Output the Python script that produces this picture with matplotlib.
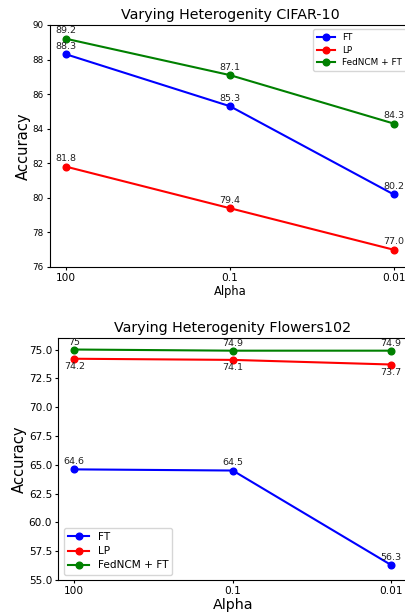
import matplotlib
matplotlib.use("Agg")
import matplotlib.pyplot as plt

alphas = ["100", "0.1", "0.01"]
methods = ["FT", "LP", "FedNCM + FT"]
colors = ["blue", "red", "green"]

cifar_ft = [88.3, 85.3, 80.2]
cifar_lp = [81.8, 79.4, 77.0]
cifar_fedncm = [89.2, 87.1, 84.3]

flowers_ft = [64.6, 64.5, 56.3]
flowers_lp = [74.2, 74.1, 73.7]
flowers_fedncm = [75, 74.9, 74.9]
flowers_fedncm_labels = ["75", "74.9", "74.9"]

W, H = 406, 613
fig = plt.figure(figsize=(W / 100, H / 100), dpi=100)

def px_axes(l, r, t, b):
    return fig.add_axes([l / W, (H - b) / H, (r - l) / W, (b - t) / H])

ax1 = px_axes(50, 410, 25, 267)
ax2 = px_axes(58.5, 407, 338, 580)

lw = 1.5
ms = 4.8
ann_fs = 6.8

x = list(range(len(alphas)))

# Top chart
for vals, c, m in zip([cifar_ft, cifar_lp, cifar_fedncm], colors, methods):
    ax1.plot(x, vals, marker="o", color=c, lw=lw, ms=ms, label=m)
    for xi, v in zip(x, vals):
        ax1.annotate(f"{v:.1f}", (xi, v), xytext=(0, 2.5), textcoords="offset points",
                     ha="center", va="bottom", fontsize=ann_fs, color="#222222")
ax1.set_ylim(76, 90)
ax1.set_xticks(x)
ax1.set_xticklabels(alphas)
ax1.set_title("Varying Heterogenity CIFAR-10", fontsize=10.3, pad=4)
ax1.set_xlabel("Alpha", fontsize=8.3, labelpad=1)
ax1.set_ylabel("Accuracy", fontsize=10.6, labelpad=1)
ax1.tick_params(axis="y", labelsize=6.3, length=2.5, pad=2)
ax1.tick_params(axis="x", labelsize=7.6, length=2.5, pad=2)
ax1.legend(loc="upper right", fontsize=6.4, handlelength=2.0, borderpad=0.45,
           labelspacing=0.38)

# Bottom chart
for vals, c, m in zip([flowers_ft, flowers_lp, flowers_fedncm], colors, methods):
    ax2.plot(x, vals, marker="o", color=c, lw=lw, ms=ms, label=m)
for xi, v in zip(x, flowers_ft):
    ax2.annotate(f"{v:.1f}", (xi, v), xytext=(0, 2.5), textcoords="offset points",
                 ha="center", va="bottom", fontsize=ann_fs, color="#222222")
for xi, v in zip(x, flowers_lp):
    ax2.annotate(f"{v:.1f}", (xi, v), xytext=(0, -2.5), textcoords="offset points",
                 ha="center", va="top", fontsize=ann_fs, color="#222222")
for xi, v, lab in zip(x, flowers_fedncm, flowers_fedncm_labels):
    ax2.annotate(lab, (xi, v), xytext=(0, 2), textcoords="offset points",
                 ha="center", va="bottom", fontsize=ann_fs, color="#222222")
ax2.set_ylim(55, 76)
ax2.set_yticks([55.0, 57.5, 60.0, 62.5, 65.0, 67.5, 70.0, 72.5, 75.0])
ax2.set_xticks(x)
ax2.set_xticklabels(alphas)
ax2.set_title("Varying Heterogenity Flowers102", fontsize=10.3, pad=4)
ax2.set_xlabel("Alpha", fontsize=10.3, labelpad=1)
ax2.set_ylabel("Accuracy", fontsize=10.6, labelpad=1)
ax2.tick_params(axis="y", labelsize=7.6, length=2.5, pad=2)
ax2.tick_params(axis="x", labelsize=7.6, length=2.5, pad=2)
ax2.legend(loc="lower left", fontsize=7.6, handlelength=2.0, borderpad=0.4,
           labelspacing=0.4)

fig.savefig("out.png", dpi=100)
